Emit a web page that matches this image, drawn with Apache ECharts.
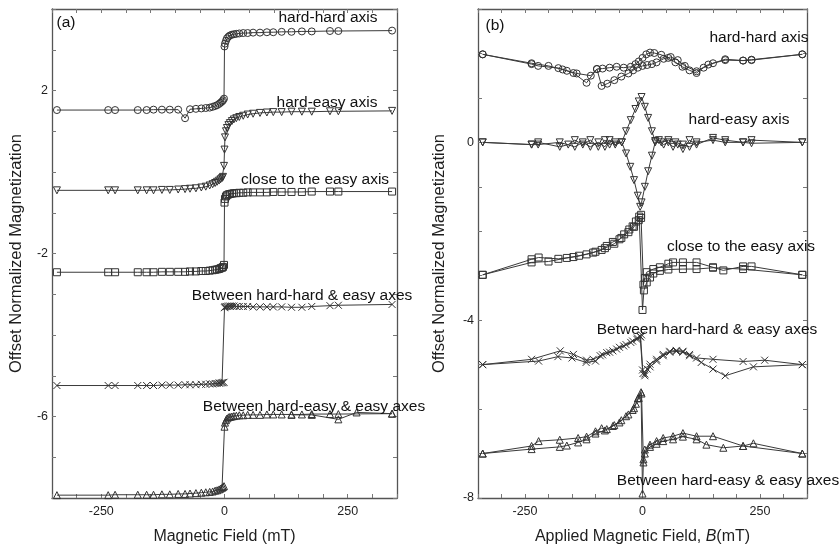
<!DOCTYPE html>
<html>
<head>
<meta charset="utf-8">
<script src="https://cdn.jsdelivr.net/npm/echarts@6/dist/echarts.min.js"></script>
<style>html,body{margin:0;padding:0;background:#fff}#c{width:839px;height:550px}</style>
</head>
<body>
<div id="c"></div>
<script>
// ---------- tick labels ----------
const xTickLabels = [-250, 0, 250];
const aYTickLabels = [2, -2, -6];
const bYTickLabels = [0, -4, -8];

// ---------- panel (a): field values (mT) ----------
const fieldA = [-340,-236,-222,-176,-158,-144,-127,-111,-94,-80,-70,-58,-47,-38,-30,-24,-19,-15,-11,-8,-5,-3,-1,0,1,3,5,8,11,15,19,24,30,38,47,58,72,86,99,116,136,157,177,214,231,340];
const aHardHard = [1.52,1.52,1.52,1.52,1.52,1.53,1.53,1.53,1.53,1.32,1.54,1.55,1.56,1.57,1.58,1.60,1.62,1.64,1.67,1.70,1.73,1.76,1.80,3.08,3.15,3.22,3.28,3.32,3.35,3.37,3.38,3.39,3.40,3.41,3.41,3.42,3.42,3.43,3.43,3.44,3.44,3.45,3.45,3.46,3.46,3.47];
const aHardEasy = [-0.45,-0.45,-0.45,-0.45,-0.45,-0.45,-0.44,-0.44,-0.43,-0.42,-0.41,-0.40,-0.38,-0.36,-0.33,-0.30,-0.27,-0.24,-0.21,-0.18,-0.15,-0.12,0.15,0.55,0.85,1.00,1.08,1.15,1.20,1.25,1.29,1.32,1.35,1.38,1.41,1.43,1.45,1.46,1.47,1.47,1.48,1.48,1.48,1.49,1.49,1.50];
const aCloseEasy = [-2.46,-2.46,-2.46,-2.46,-2.46,-2.46,-2.45,-2.45,-2.45,-2.45,-2.44,-2.44,-2.43,-2.43,-2.42,-2.41,-2.40,-2.39,-2.38,-2.36,-2.35,-2.33,-2.28,-0.75,-0.66,-0.60,-0.57,-0.55,-0.54,-0.53,-0.52,-0.52,-0.51,-0.51,-0.50,-0.50,-0.50,-0.50,-0.49,-0.49,-0.49,-0.49,-0.48,-0.48,-0.48,-0.48];
const aBetweenHH = [-5.24,-5.24,-5.24,-5.24,-5.24,-5.24,-5.23,-5.23,-5.23,-5.22,-5.22,-5.22,-5.21,-5.21,-5.20,-5.20,-5.19,-5.19,-5.18,-5.18,-5.17,-5.17,-5.16,-3.33,-3.31,-3.30,-3.30,-3.29,-3.29,-3.29,-3.29,-3.30,-3.30,-3.30,-3.30,-3.31,-3.31,-3.31,-3.31,-3.31,-3.32,-3.32,-3.30,-3.28,-3.27,-3.25];
const aBetweenHE = [-7.93,-7.93,-7.92,-7.92,-7.92,-7.92,-7.91,-7.91,-7.90,-7.90,-7.89,-7.88,-7.87,-7.86,-7.85,-7.84,-7.82,-7.81,-7.79,-7.77,-7.75,-7.73,-7.71,-6.25,-6.15,-6.09,-6.05,-6.02,-6.01,-6.00,-5.99,-5.98,-5.97,-5.97,-5.96,-5.96,-5.96,-5.95,-5.95,-5.95,-5.95,-5.95,-5.94,-5.94,-5.94,-5.93];
const aBetweenHEReturn = [[136,-5.96],[177,-5.96],[231,-6.07],[268,-5.90],[340,-5.93]];

// ---------- panel (b): [field (mT), value] pairs, two sweep branches ----------
const bHardHardDown = [[340,1.98],[232,1.86],[214,1.84],[176,1.87],[150,1.78],[130,1.68],[115,1.56],[100,1.62],[85,1.70],[70,1.80],[55,1.90],[40,1.97],[25,2.01],[16,2.02],[8,1.98],[0,1.90],[-8,1.82],[-15,1.76],[-25,1.70],[-40,1.68],[-55,1.70],[-70,1.68],[-85,1.66],[-97,1.65],[-119,1.34],[-147,1.56],[-161,1.61],[-179,1.67],[-222,1.72],[-236,1.76],[-340,1.98]];
const bHardHardUp = [[-340,1.98],[-236,1.78],[-200,1.72],[-170,1.64],[-140,1.55],[-110,1.50],[-97,1.65],[-87,1.27],[-75,1.32],[-60,1.40],[-45,1.48],[-30,1.55],[-20,1.62],[-10,1.68],[0,1.72],[10,1.74],[20,1.76],[30,1.80],[45,1.88],[60,1.92],[75,1.85],[90,1.72],[115,1.60],[140,1.75],[176,1.85],[214,1.84],[232,1.85],[340,1.98]];
const bHardEasyUp = [[-340,0],[-236,-0.05],[-222,0.0],[-176,-0.1],[-158,-0.05],[-144,0.05],[-127,-0.05],[-111,0.05],[-94,-0.1],[-80,0.05],[-70,-0.05],[-58,0.0],[-44,0.0],[-35,0.25],[-25,0.5],[-15,0.75],[-8,0.92],[-2,1.02],[5,0.8],[12,0.55],[20,0.25],[27,0.03],[35,0.05],[45,-0.05],[55,0.0],[65,-0.1],[75,-0.05],[86,-0.15],[100,0.05],[115,-0.05],[150,0.1],[176,0.05],[214,0.0],[232,0.05],[340,0.0]];
const bHardEasyDown = [[340,0],[232,-0.02],[214,0.0],[176,0.0],[150,0.05],[115,0.0],[100,-0.1],[86,-0.05],[70,0.0],[55,0.05],[40,0.0],[27,0.0],[20,-0.3],[12,-0.65],[5,-1.0],[-2,-1.35],[-5,-1.45],[-10,-1.2],[-18,-0.85],[-26,-0.55],[-35,-0.25],[-44,0.0],[-58,-0.05],[-70,0.05],[-80,-0.1],[-94,0.0],[-111,-0.1],[-127,0.0],[-144,-0.1],[-176,0.0],[-222,-0.05],[-236,-0.05],[-340,0]];
const bCloseEasyA = [[-340,-2.98],[-236,-2.63],[-221,-2.59],[-179,-2.62],[-147,-2.58],[-119,-2.52],[-100,-2.46],[-87,-2.42],[-76,-2.33],[-63,-2.24],[-49,-2.18],[-39,-2.07],[-28,-1.96],[-21,-1.89],[-14,-1.78],[-7,-1.67],[-3,-1.63],[0,-3.77],[3,-3.33],[9,-3.15],[16,-3.04],[23,-2.95],[37,-2.89],[55,-2.86],[86,-2.85],[115,-2.85],[150,-2.82],[214,-2.85],[340,-2.98]];
const bCloseEasyB = [[-340,-2.98],[-236,-2.70],[-200,-2.68],[-161,-2.60],[-135,-2.55],[-105,-2.48],[-80,-2.38],[-60,-2.28],[-45,-2.15],[-30,-2.02],[-18,-1.90],[-8,-1.75],[-3,-1.70],[2,-3.20],[5,-3.05],[9,-2.92],[23,-2.85],[37,-2.81],[55,-2.73],[65,-2.70],[86,-2.70],[115,-2.70],[150,-2.81],[172,-2.88],[214,-2.79],[232,-2.79],[340,-2.98]];
const bBetweenHHA = [[-340,-5.0],[-236,-4.88],[-175,-4.69],[-147,-4.77],[-119,-4.90],[-105,-4.88],[-90,-4.80],[-76,-4.73],[-63,-4.69],[-49,-4.61],[-35,-4.55],[-21,-4.47],[-11,-4.40],[-5,-4.36],[-2,-4.33],[0,-5.12],[5,-5.21],[10,-5.10],[16,-4.99],[30,-4.88],[44,-4.77],[58,-4.70],[72,-4.68],[86,-4.70],[100,-4.77],[115,-4.85],[150,-4.88],[214,-4.93],[260,-4.90],[340,-5.0]];
const bBetweenHHB = [[-340,-5.0],[-221,-4.92],[-180,-4.82],[-150,-4.85],[-120,-4.95],[-100,-4.92],[-85,-4.78],[-70,-4.72],[-55,-4.65],[-40,-4.58],[-25,-4.50],[-12,-4.43],[-4,-4.38],[1,-5.20],[5,-5.25],[16,-5.05],[30,-4.92],[44,-4.80],[58,-4.72],[72,-4.70],[86,-4.72],[100,-4.80],[125,-4.95],[150,-5.10],[176,-5.25],[236,-5.05],[340,-5.0]];
const bBetweenHEA = [[-340,-7.0],[-236,-6.83],[-221,-6.72],[-176,-6.69],[-137,-6.65],[-119,-6.62],[-100,-6.50],[-87,-6.43],[-76,-6.45],[-63,-6.38],[-49,-6.30],[-35,-6.16],[-21,-6.02],[-14,-5.88],[-10,-5.76],[-3,-5.62],[0,-7.9],[2,-7.13],[5,-6.91],[16,-6.80],[30,-6.72],[44,-6.65],[65,-6.61],[86,-6.54],[115,-6.61],[150,-6.61],[214,-6.83],[236,-6.77],[340,-7.0]];
const bBetweenHEB = [[-340,-7.0],[-236,-6.90],[-176,-6.85],[-161,-6.82],[-137,-6.75],[-119,-6.68],[-100,-6.55],[-80,-6.48],[-60,-6.36],[-45,-6.25],[-30,-6.12],[-18,-5.98],[-8,-5.75],[-2,-5.65],[2,-7.20],[5,-7.00],[16,-6.85],[30,-6.78],[44,-6.72],[65,-6.68],[86,-6.62],[115,-6.68],[136,-6.80],[172,-6.87],[214,-6.83],[340,-7.0]];

// ---------- chart ----------
const FONT = 'Liberation Sans, Arial, sans-serif';
const INK = '#1e1e1e';
const LINE = '#3a3a3a';

function zipA(vals) { return fieldA.map((h, i) => [h, vals[i]]); }

function xAx(grid, pos, name, rich) {
  const bottom = pos === 'bottom';
  return {
    type: 'value', gridIndex: grid, position: pos, min: -350, max: 350, interval: 50,
    axisLine: { show: true, onZero: false, lineStyle: { color: '#555', width: 1.3 } },
    axisTick: { show: true, inside: true, length: 4, lineStyle: { color: '#777', width: 1 } },
    axisLabel: { show: bottom, color: INK, fontFamily: FONT, fontSize: 12.5, margin: 7,
      formatter: v => xTickLabels.includes(v) ? String(v) : '' },
    splitLine: { show: false },
    name: bottom ? name : '', nameLocation: 'middle', nameGap: 31,
    nameTextStyle: { color: INK, fontFamily: FONT, fontSize: 16, rich: rich || {} }
  };
}
function yAx(grid, pos, min, max, interval, labels, name, gap) {
  const left = pos === 'left';
  return {
    type: 'value', gridIndex: grid, position: pos, min: min, max: max, interval: interval,
    axisLine: { show: true, onZero: false, lineStyle: { color: '#555', width: 1.3 } },
    axisTick: { show: true, inside: true, length: 4, lineStyle: { color: '#777', width: 1 } },
    axisLabel: { show: left, color: INK, fontFamily: FONT, fontSize: 12.5, margin: 4,
      formatter: v => { const r = Math.round(v); return (Math.abs(v - r) < 1e-6 && labels.includes(r)) ? String(r) : ''; } },
    splitLine: { show: false },
    name: left ? name : '', nameLocation: 'middle', nameGap: gap,
    nameTextStyle: { color: INK, fontFamily: FONT, fontSize: 16.5 }
  };
}

function ser(data, sym, xi, yi, rot) {
  return {
    type: 'line', data: data, xAxisIndex: xi, yAxisIndex: yi,
    symbol: sym, symbolSize: 7, symbolRotate: rot || 0, showAllSymbol: true,
    lineStyle: { color: LINE, width: 1 },
    itemStyle: { color: 'transparent', borderColor: '#333', borderWidth: 1 },
    emphasis: { disabled: true }, animation: false, z: 3
  };
}
const CROSS = 'path://M0,0L10,10M10,0L0,10';

function label(text, x, y) {
  return { type: 'text', x: x, y: y, z: 10,
    style: { text: text, fill: '#111', font: '15.5px ' + FONT, textAlign: 'center', textVerticalAlign: 'middle', align: 'center', verticalAlign: 'middle' } };
}

const chart = echarts.init(document.getElementById('c'), null, { renderer: 'canvas' });
chart.setOption({
  animation: false,
  backgroundColor: '#fff',
  grid: [
    { left: 52, top: 9, width: 345, height: 497 },
    { left: 478, top: 9, width: 329, height: 497 }
  ],
  xAxis: [
    xAx(0, 'bottom', 'Magnetic Field (mT)'),
    xAx(0, 'top', ''),
    xAx(1, 'bottom', 'Applied Magnetic Field, {i|B}(mT)', { i: { fontStyle: 'italic', fontFamily: FONT, fontSize: 16, color: INK } }),
    xAx(1, 'top', '')
  ],
  yAxis: [
    yAx(0, 'left', -8, 4, 1, aYTickLabels, 'Offset Normalized Magnetization', 27),
    yAx(0, 'right', -8, 4, 1, aYTickLabels, '', 0),
    yAx(1, 'left', -8, 3, 1, bYTickLabels, 'Offset Normalized Magnetization', 30),
    yAx(1, 'right', -8, 3, 1, bYTickLabels, '', 0)
  ],
  series: [
    ser(zipA(aHardHard), 'circle', 0, 0),
    ser(zipA(aHardEasy), 'triangle', 0, 0, 180),
    ser(zipA(aCloseEasy), 'rect', 0, 0),
    ser(zipA(aBetweenHH), CROSS, 0, 0),
    ser(zipA(aBetweenHE), 'triangle', 0, 0),
    ser(aBetweenHEReturn, 'triangle', 0, 0),
    ser(bHardHardDown, 'circle', 2, 2),
    ser(bHardHardUp, 'circle', 2, 2),
    ser(bHardEasyUp, 'triangle', 2, 2, 180),
    ser(bHardEasyDown, 'triangle', 2, 2, 180),
    ser(bCloseEasyA, 'rect', 2, 2),
    ser(bCloseEasyB, 'rect', 2, 2),
    ser(bBetweenHHA, CROSS, 2, 2),
    ser(bBetweenHHB, CROSS, 2, 2),
    ser(bBetweenHEA, 'triangle', 2, 2),
    ser(bBetweenHEB, 'triangle', 2, 2)
  ],
  graphic: [
    label('(a)', 66, 23),
    label('(b)', 495, 26),
    label('hard-hard axis', 328, 18),
    label('hard-easy axis', 327, 103),
    label('close to the easy axis', 315, 180),
    label('Between hard-hard & easy axes', 302, 296),
    label('Between hard-easy & easy axes', 314, 407),
    label('hard-hard axis', 759, 38),
    label('hard-easy axis', 739, 120),
    label('close to the easy axis', 741, 247),
    label('Between hard-hard & easy axes', 707, 330),
    label('Between hard-easy & easy axes', 728, 481)
  ]
});
</script>
</body>
</html>
